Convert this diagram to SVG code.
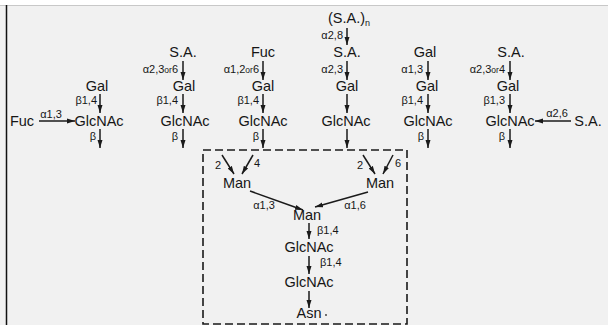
<svg xmlns="http://www.w3.org/2000/svg" width="608" height="325" viewBox="0 0 608 325">
<defs>
<marker id="ah" markerUnits="userSpaceOnUse" markerWidth="9" markerHeight="7" refX="8" refY="3" orient="auto">
<path d="M0,0.5 L8,3 L0,5.5 z" fill="#1a1a1a"/>
</marker>
<style>
.n{font-family:"Liberation Sans",Arial,sans-serif;font-size:14.5px;fill:#161616;text-anchor:middle}
.l{font-family:"Liberation Sans",Arial,sans-serif;font-size:11px;fill:#161616;text-anchor:end}
.lm{text-anchor:middle}
.ls{text-anchor:start}
.sm{font-size:8.5px}
.c{stroke:#1a1a1a;stroke-width:1.5;fill:none;marker-end:url(#ah)}
.box{stroke:#1a1a1a;stroke-width:1.6;fill:none;stroke-dasharray:8 4}
</style>
</defs>
<rect x="0" y="0" width="608" height="325" fill="#ffffff"/>
<rect x="0" y="5" width="608" height="320" fill="#f1f1f1"/>
<line x1="0" y1="5.5" x2="608" y2="5.5" stroke="#c8c8c8" stroke-width="1"/>
<line x1="6.5" y1="5" x2="6.5" y2="325" stroke="#111" stroke-width="1.5"/>

<g id="core-box"><rect class="box" x="203" y="150" width="204" height="174"/></g>

<g id="col1-fuc"><text class="n" x="22" y="126">Fuc</text></g>
<g id="col1-gal"><text class="n" x="97" y="91">Gal</text></g>
<g id="col1-glcnac"><text class="n" x="99" y="126">GlcNAc</text></g>

<g id="col2-sa"><text class="n" x="183" y="57">S.A.</text></g>
<g id="col2-gal"><text class="n" x="184" y="91">Gal</text></g>
<g id="col2-glcnac"><text class="n" x="185" y="126">GlcNAc</text></g>

<g id="col3-fuc"><text class="n" x="263" y="57">Fuc</text></g>
<g id="col3-gal"><text class="n" x="263" y="91">Gal</text></g>
<g id="col3-glcnac"><text class="n" x="263" y="126">GlcNAc</text></g>

<g id="col4-sa-n"><text class="n" x="349" y="23">(S.A.)<tspan font-size="9" dy="3">n</tspan></text></g>
<g id="col4-sa"><text class="n" x="347" y="57">S.A.</text></g>
<g id="col4-gal"><text class="n" x="347" y="91">Gal</text></g>
<g id="col4-glcnac"><text class="n" x="346" y="126">GlcNAc</text></g>

<g id="col5-gal-top"><text class="n" x="425" y="57">Gal</text></g>
<g id="col5-gal"><text class="n" x="427" y="91">Gal</text></g>
<g id="col5-glcnac"><text class="n" x="428" y="126">GlcNAc</text></g>

<g id="col6-sa"><text class="n" x="511" y="57">S.A.</text></g>
<g id="col6-gal"><text class="n" x="508" y="91">Gal</text></g>
<g id="col6-glcnac"><text class="n" x="510" y="126">GlcNAc</text></g>
<g id="col6-sa-side"><text class="n" x="588" y="126">S.A.</text></g>

<g id="man-left"><text class="n" x="237" y="188">Man</text></g>
<g id="man-right"><text class="n" x="380" y="188">Man</text></g>
<g id="man-core"><text class="n" x="307" y="220">Man</text></g>
<g id="glcnac-core1"><text class="n" x="309" y="252">GlcNAc</text></g>
<g id="glcnac-core2"><text class="n" x="309" y="287">GlcNAc</text></g>
<g id="asn"><text class="n" x="309" y="318">Asn</text><circle cx="326" cy="315" r="0.9" fill="#333"/></g>

<g id="connectors">
<line class="c" x1="39" y1="121" x2="75" y2="121"/>
<line class="c" x1="100" y1="94" x2="100" y2="113"/>
<line class="c" x1="100" y1="129" x2="100" y2="148"/>
<line class="c" x1="183" y1="61" x2="183" y2="80"/>
<line class="c" x1="183" y1="94" x2="183" y2="113"/>
<line class="c" x1="183" y1="129" x2="183" y2="148"/>
<line class="c" x1="263" y1="61" x2="263" y2="80"/>
<line class="c" x1="263" y1="94" x2="263" y2="113"/>
<line class="c" x1="263" y1="129" x2="263" y2="148"/>
<line class="c" x1="347" y1="28" x2="347" y2="45"/>
<line class="c" x1="347" y1="61" x2="347" y2="80"/>
<line class="c" x1="347" y1="94" x2="347" y2="113"/>
<line class="c" x1="347" y1="129" x2="347" y2="148"/>
<line class="c" x1="428" y1="61" x2="428" y2="80"/>
<line class="c" x1="428" y1="94" x2="428" y2="113"/>
<line class="c" x1="428" y1="129" x2="428" y2="148"/>
<line class="c" x1="510" y1="61" x2="510" y2="80"/>
<line class="c" x1="510" y1="94" x2="510" y2="113"/>
<line class="c" x1="510" y1="129" x2="510" y2="148"/>
<line class="c" x1="571" y1="121" x2="535" y2="121"/>
<line class="c" x1="222" y1="155" x2="234" y2="174"/>
<line class="c" x1="253" y1="155" x2="242" y2="174"/>
<line class="c" x1="363" y1="155" x2="375" y2="174"/>
<line class="c" x1="393" y1="155" x2="383" y2="174"/>
<line class="c" x1="250" y1="191" x2="303" y2="210"/>
<line class="c" x1="368" y1="192" x2="315" y2="207"/>
<line class="c" x1="309" y1="223" x2="309" y2="239"/>
<line class="c" x1="309" y1="256" x2="309" y2="274"/>
<line class="c" x1="309" y1="291" x2="309" y2="308"/>

<text class="l lm" x="51" y="118">α1,3</text>
<text class="l" x="97" y="104">β1,4</text>
<text class="l" x="96" y="140">β</text>

<text class="l" x="178" y="73">α2,3<tspan class="sm">or</tspan>6</text>
<text class="l" x="178" y="104">β1,4</text>
<text class="l" x="178" y="140">β</text>

<text class="l" x="259" y="73">α1,2<tspan class="sm">or</tspan>6</text>
<text class="l" x="259" y="104">β1,4</text>
<text class="l" x="259" y="140">β</text>

<text class="l" x="343" y="39">α2,8</text>
<text class="l" x="343" y="73">α2,3</text>

<text class="l" x="423" y="73">α1,3</text>
<text class="l" x="423" y="104">β1,4</text>
<text class="l" x="424" y="140">β</text>

<text class="l" x="505" y="73">α2,3<tspan class="sm">or</tspan>4</text>
<text class="l" x="505" y="104">β1,3</text>
<text class="l" x="505" y="140">β</text>
<text class="l lm" x="557" y="117">α2,6</text>

<text class="l lm" x="218" y="169">2</text>
<text class="l ls" x="254" y="167">4</text>
<text class="l lm" x="360" y="169">2</text>
<text class="l ls" x="395" y="167">6</text>
<text class="l lm" x="264" y="209">α1,3</text>
<text class="l lm" x="355" y="209">α1,6</text>
<text class="l ls" x="317" y="234">β1,4</text>
<text class="l ls" x="320" y="266">β1,4</text>
</g>
</svg>
